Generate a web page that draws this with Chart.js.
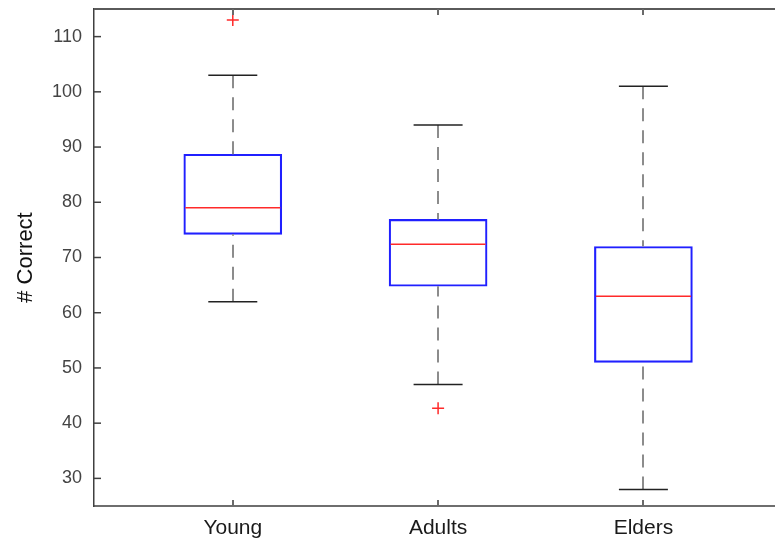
<!DOCTYPE html>
<html>
<head>
<meta charset="utf-8">
<script src="https://cdn.jsdelivr.net/npm/chart.js@4/dist/chart.umd.min.js"></script>
<style>
  html, body { margin: 0; padding: 0; background: #fff; }
  #wrap { width: 775px; height: 542px; position: relative; }
</style>
</head>
<body>
<div id="wrap"><canvas id="c"></canvas></div>
<script>
// Box-plot summary for each group
const groups = ['Young', 'Adults', 'Elders'];
const positions = [1, 2, 3];
const whiskerLow = [62, 47, 28];
const quartile1 = [74.2, 64.8, 51];
const medians = [79, 72.4, 63];
const quartile3 = [88.7, 76.9, 72];
const whiskerHigh = [103, 94, 101];
// Outliers: group position and value
const outlierGroup = [1, 2];
const outlierValue = [113, 42.7];
const yTicks = [30, 40, 50, 60, 70, 80, 90, 100, 110];

const FONT = "'Liberation Sans', Arial, sans-serif";

// Whiskers, caps, medians, top frame line and inward tick marks
const boxParts = {
  id: 'boxParts',
  afterDatasetsDraw(chart) {
    const { ctx, chartArea: a, scales: { x, y } } = chart;
    const bars = chart.getDatasetMeta(0).data;
    ctx.save();

    // dashed whiskers, drawn from the whisker end toward the box
    ctx.strokeStyle = '#8c8c8c';
    ctx.lineWidth = 2;
    ctx.setLineDash([13, 9]);
    positions.forEach((p, i) => {
      const cx = Math.round(x.getPixelForValue(p));
      ctx.beginPath();
      ctx.moveTo(cx, y.getPixelForValue(whiskerHigh[i]));
      ctx.lineTo(cx, y.getPixelForValue(quartile3[i]));
      ctx.moveTo(cx, y.getPixelForValue(whiskerLow[i]));
      ctx.lineTo(cx, y.getPixelForValue(quartile1[i]));
      ctx.stroke();
    });
    ctx.setLineDash([]);

    // whisker caps (half the box width)
    ctx.strokeStyle = '#222';
    ctx.lineWidth = 1.5;
    positions.forEach((p, i) => {
      const el = bars[i];
      const half = el.width / 4;
      [whiskerHigh[i], whiskerLow[i]].forEach(v => {
        const py = y.getPixelForValue(v);
        ctx.beginPath();
        ctx.moveTo(el.x - half, py);
        ctx.lineTo(el.x + half, py);
        ctx.stroke();
      });
    });

    // medians
    ctx.strokeStyle = '#ff2a2a';
    ctx.lineWidth = 1.5;
    positions.forEach((p, i) => {
      const el = bars[i];
      const py = y.getPixelForValue(medians[i]);
      ctx.beginPath();
      ctx.moveTo(el.x - el.width / 2 + 1.5, py);
      ctx.lineTo(el.x + el.width / 2 - 1.5, py);
      ctx.stroke();
    });

    // top frame line
    ctx.strokeStyle = '#5a5a5a';
    ctx.lineWidth = 2;
    ctx.beginPath();
    ctx.moveTo(a.left, a.top);
    ctx.lineTo(a.right, a.top);
    ctx.stroke();

    // inward ticks on the y axis
    ctx.strokeStyle = '#404040';
    ctx.lineWidth = 1.5;
    yTicks.forEach(v => {
      const py = y.getPixelForValue(v);
      ctx.beginPath();
      ctx.moveTo(a.left, py);
      ctx.lineTo(a.left + 7, py);
      ctx.stroke();
    });

    // inward ticks at top and bottom for each group
    ctx.strokeStyle = '#6a6a6a';
    ctx.lineWidth = 2;
    positions.forEach(p => {
      const cx = Math.round(x.getPixelForValue(p));
      ctx.beginPath();
      ctx.moveTo(cx, a.bottom);
      ctx.lineTo(cx, a.bottom - 6);
      ctx.moveTo(cx, a.top);
      ctx.lineTo(cx, a.top + 6);
      ctx.stroke();
    });

    ctx.restore();
  }
};

new Chart(document.getElementById('c'), {
  type: 'bar',
  data: {
    datasets: [
      {
        type: 'bar',
        data: positions.map((p, i) => ({ x: p, y: [quartile1[i], quartile3[i]] })),
        backgroundColor: 'rgba(0,0,0,0)',
        borderColor: '#2020ff',
        borderWidth: 1.5,
        borderSkipped: false,
        barThickness: 98,
        grouped: false
      },
      {
        type: 'scatter',
        data: outlierGroup.map((g, i) => ({ x: g, y: outlierValue[i] })),
        pointStyle: 'cross',
        pointRadius: 6,
        borderColor: '#ff2a2a',
        backgroundColor: '#ff2a2a',
        borderWidth: 1.5
      }
    ]
  },
  options: {
    responsive: true,
    maintainAspectRatio: false,
    devicePixelRatio: 1,
    animation: false,
    events: [],
    layout: { autoPadding: false, padding: { left: 0, right: 0, top: 9, bottom: 0 } },
    plugins: { legend: { display: false }, tooltip: { enabled: false } },
    scales: {
      x: {
        type: 'linear',
        offset: false,
        bounds: 'data',
        min: 0.324,
        max: 3.641,
        grid: { display: false, drawTicks: false, offset: false },
        border: { display: true, color: '#6e6e6e', width: 2 },
        ticks: {
          padding: 10,
          color: '#1a1a1a',
          font: { family: FONT, size: 21 },
          callback: v => groups[positions.indexOf(v)] ?? ''
        },
        afterBuildTicks: s => { s.ticks = positions.map(v => ({ value: v })); },
        afterFit: s => { s.height = 36; s.paddingLeft = 0; s.paddingRight = 0; }
      },
      y: {
        min: 25,
        max: 115,
        grid: { display: false, drawTicks: false },
        border: { display: true, color: '#404040', width: 1.5 },
        ticks: {
          padding: 12,
          color: '#444',
          font: { family: FONT, size: 18 }
        },
        title: {
          display: true,
          text: '# Correct',
          color: '#111',
          font: { family: FONT, size: 22 },
          padding: { top: 13, bottom: 0 }
        },
        afterBuildTicks: s => { s.ticks = yTicks.map(v => ({ value: v })); },
        afterFit: s => { s.width = 94; s.paddingTop = 0; s.paddingBottom = 0; }
      }
    }
  },
  plugins: [boxParts]
});
</script>
</body>
</html>
